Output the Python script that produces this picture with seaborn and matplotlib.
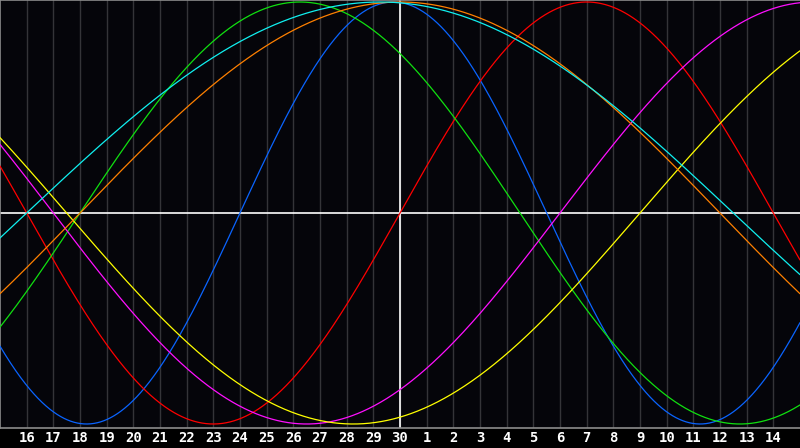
import matplotlib
matplotlib.use("Agg")
import matplotlib.pyplot as plt
import seaborn as sns
import numpy as np
import pandas as pd

# дні внизу графіка (центр - 30 число)
day_labels = [16, 17, 18, 19, 20, 21, 22, 23, 24, 25, 26, 27, 28, 29, 30,
              1, 2, 3, 4, 5, 6, 7, 8, 9, 10, 11, 12, 13, 14]
day_offsets = list(range(-14, 15))

# біоритми: період (днів) і день, де крива перетинає нуль вгору
cycles = ["physical", "emotional", "intellectual", "intuitive",
          "aesthetic", "awareness", "spiritual"]
periods = [23, 28, 33, 38, 43, 48, 53]
zero_days = [-6.0, 0.0, -12.0, 6.0, 9.0, -12.0, -14.0]
colors = ["#0a64ff", "#ff0000", "#10e010", "#ff10ff", "#ffff00", "#ff8000", "#10f0f0"]

sns.set_style("dark")
plt.rcParams["font.family"] = ["DejaVu Sans Mono", "DejaVu Sans"]

t = np.linspace(-15, 15, 1201)
rows = []
for name, p, z in zip(cycles, periods, zero_days):
    rows.append(pd.DataFrame({"day": t, "value": np.sin(2 * np.pi * (t - z) / p), "cycle": name}))
df = pd.concat(rows, ignore_index=True)

fig = plt.figure(figsize=(8, 4.48), dpi=100, facecolor="#000000")
ax = fig.add_axes([0, 20 / 448, 1, 428 / 448])
ax.set_facecolor("#05050a")

# сітка по днях
for d in day_offsets:
    ax.axvline(d, color="#343438", lw=1.0, zorder=1)
ax.axvline(0, color="#ffffff", lw=1.2, zorder=2)
ax.axhline(0, color="#ffffff", lw=1.2, zorder=2)

sns.lineplot(data=df, x="day", y="value", hue="cycle", hue_order=cycles,
             palette=colors, lw=0.9, legend=False, ax=ax, zorder=3)

ax.set_xlim(-15, 15)
ax.set_ylim(-215 / 211, 213 / 211)
ax.set_xticks(day_offsets)
ax.set_xticklabels([str(d) for d in day_labels], color="white",
                   fontweight="bold", fontsize=10)
ax.tick_params(axis="x", length=0, pad=2.5)
ax.set_yticks([])
ax.set_xlabel("")
ax.set_ylabel("")
ax.grid(False)
for side in ["left", "top", "bottom"]:
    ax.spines[side].set_visible(True)
    ax.spines[side].set_color("#8c8c8c")
    ax.spines[side].set_linewidth(1.2)
ax.spines["right"].set_visible(False)

fig.savefig("out.png", dpi=100, facecolor=fig.get_facecolor())
